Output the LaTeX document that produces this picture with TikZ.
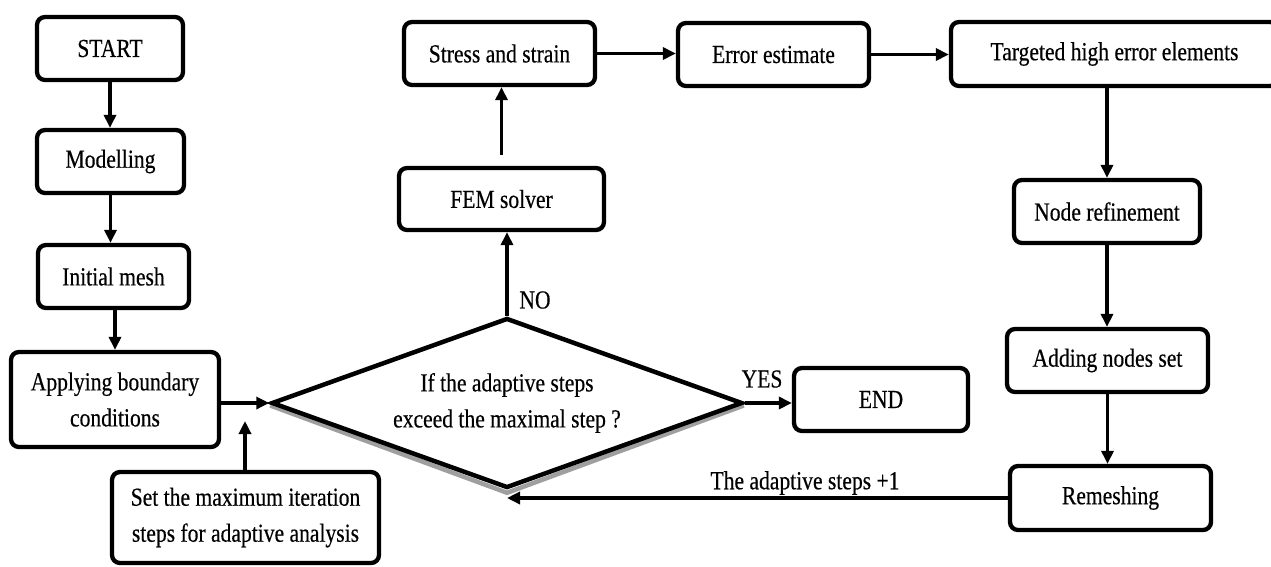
\documentclass[tikz,border=0pt]{standalone}
\usepackage{fontspec}
\setmainfont{Liberation Serif}[FakeStretch=0.83,FakeBold=0.4]
\usetikzlibrary{arrows.meta,shapes.geometric,backgrounds}
\begin{document}
\begin{tikzpicture}[x=1pt,y=-1pt,
  txt/.style={font=\fontsize{26}{36}\selectfont},
  box/.style={txt, draw, line width=4.3pt, rounded corners=8pt, align=center, inner sep=0pt, fill=white},
  arr/.style={line width=3.6pt, -{Triangle[length=13pt,width=12pt]}},
  lbl/.style={txt, inner sep=0pt}]
\useasboundingbox (0,0) rectangle (1271,566);
\clip (0,0) rectangle (1271,566);
% left column
\node[box, minimum width=146pt, minimum height=63pt] (start) at (110,48.5) {START};
\node[box, minimum width=147pt, minimum height=63pt] (modelling) at (110.5,161.5) {Modelling};
\node[box, minimum width=151pt, minimum height=63pt] (initmesh) at (113.5,276.5) {Initial mesh};
\node[box, minimum width=208pt, minimum height=95pt] (applying) at (115,399.5) {Applying boundary\\conditions};
\node[box, minimum width=267pt, minimum height=91pt] (setmax) at (245.5,517.5) {Set the maximum iteration\\steps for adaptive analysis};
% decision
\node[txt, draw, diamond, aspect=2.73, line width=4.5pt, minimum width=471pt, minimum height=170pt, inner sep=0pt, align=center] (dia) at (507,403) {If the adaptive steps\\exceed the maximal step ?};
\begin{scope}[on background layer]
\draw[gray!75, line width=4.5pt, line join=miter]
  ([shift={(1pt,-2.5pt)}]dia.west) -- ([shift={(0pt,-2.5pt)}]dia.south) -- ([shift={(-1pt,-2.5pt)}]dia.east);
\end{scope}
% middle
\node[box, minimum width=205pt, minimum height=62pt] (fem) at (501.5,199) {FEM solver};
\node[box, minimum width=191pt, minimum height=63pt] (stress) at (499.5,53.5) {Stress and strain};
\node[box, minimum width=191pt, minimum height=63pt] (error) at (773.5,54.5) {Error estimate};
\node[box, minimum width=174pt, minimum height=63pt] (endn) at (881,399.5) {END};
% right column
\node[box, minimum width=327pt, minimum height=64pt] (target) at (1114.5,54) {Targeted high error elements};
\node[box, minimum width=186pt, minimum height=63pt] (nref) at (1107,211.5) {Node refinement};
\node[box, minimum width=201pt, minimum height=63pt] (adding) at (1107.5,360.5) {Adding nodes set};
\node[box, minimum width=201pt, minimum height=64pt] (remesh) at (1110.5,498) {Remeshing};
% connectors
\draw[arr] (start.south) -- (start.south |- modelling.north);
\draw[arr] (modelling.south) -- (modelling.south |- initmesh.north);
\draw[arr] (initmesh.south -| applying.north) -- (applying.north);
\draw[arr] (applying.east |- dia.west) -- (dia.west);
\coordinate (setin) at (245,421);
\draw[arr] (setmax.north -| setin) -- (setin);
\draw[arr] (dia.north) -- (dia.north |- fem.south);
\draw[arr, shorten <=11pt] (fem.north) -- (fem.north |- stress.south);
\draw[arr] (stress.east) -- (stress.east -| error.west);
\draw[arr] (error.east) -- (error.east -| target.west);
\draw[arr] (target.south -| nref.north) -- (nref.north);
\draw[arr] (nref.south) -- (nref.south |- adding.north);
\draw[arr] (adding.south) -- (adding.south |- remesh.north);
\draw[arr] (remesh.west) -- (remesh.west -| dia.south);
\draw[arr] (dia.east) -- (dia.east -| endn.west);
% labels
\node[lbl] (no) at (535,300) {NO};
\node[lbl] (yes) at (762,379) {YES};
\node[lbl] (plus) at (805,483) {The adaptive steps +1};
\end{tikzpicture}
\end{document}
